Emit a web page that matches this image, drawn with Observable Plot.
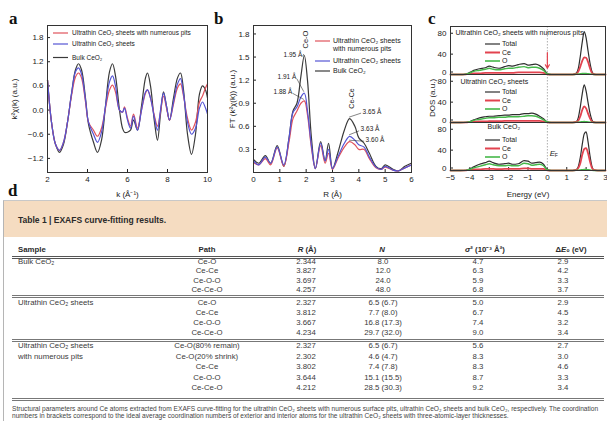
<!DOCTYPE html>
<html>
<head>
<meta charset="utf-8">
<script src="https://cdn.jsdelivr.net/npm/d3@7"></script>
<script src="https://cdn.jsdelivr.net/npm/@observablehq/plot@0.6"></script>
<style>
  html,body{margin:0;padding:0;background:#fff;}
  #root{position:relative;width:607px;height:421px;overflow:hidden;font-family:"Liberation Sans",Arial,sans-serif;color:#222;}
  .lbl{position:absolute;font-family:"Liberation Serif","DejaVu Serif",serif;font-weight:bold;font-size:17px;line-height:1;color:#111;}
  .t{position:absolute;white-space:nowrap;line-height:1;}
  .rule{position:absolute;height:0;border-top:1px solid #555;}
</style>
</head>
<body>
<div id="root"></div>
<script>
// ---------------- Panel a: EXAFS k^2 chi(k) ----------------
const kGrid = [2.0,2.2,2.4,2.6,2.8,3.0,3.2,3.4,3.55,3.7,3.9,4.05,4.3,4.5,4.7,4.9,5.1,5.25,5.4,5.6,5.75,5.85,6.0,6.15,6.3,6.5,6.7,6.9,7.0,7.15,7.35,7.5,7.65,7.8,7.95,8.1,8.3,8.5,8.65,8.8,9.0,9.2,9.4,9.6,9.75,9.9,10.0];
const chiPits = [0.75,-0.3,-0.85,-1.0,-0.8,-0.3,0.35,0.82,0.92,0.8,0.2,-0.3,-0.5,-0.65,-0.45,0.05,0.5,0.62,0.45,0.0,-0.05,0.08,-0.2,-0.4,-0.1,-0.45,0.0,0.42,0.5,0.3,-0.15,-0.4,-0.05,0.35,0.05,-0.25,0.15,0.55,0.65,0.35,-0.2,-0.5,-0.3,0.2,0.35,0.55,0.65];
const chiSheets = [0.75,-0.3,-0.85,-1.0,-0.8,-0.3,0.4,0.95,1.05,0.9,0.25,-0.3,-0.6,-0.8,-0.55,0.1,0.7,0.85,0.6,0.0,-0.05,0.05,-0.25,-0.45,-0.15,-0.5,0.0,0.45,0.5,0.3,-0.2,-0.5,0.0,0.42,0.1,-0.25,0.2,0.65,0.78,0.4,-0.3,-0.6,-0.45,0.05,0.2,0.05,-0.1];
const chiBulk = [0.75,-0.3,-0.85,-1.05,-0.85,-0.3,0.4,1.0,1.15,1.0,0.3,-0.35,-0.8,-1.05,-0.75,0.1,0.95,1.15,0.85,0.0,-0.45,-0.55,-0.55,-0.5,-0.25,-0.5,0.1,0.8,0.92,0.6,-0.3,-0.75,-0.1,0.45,0.1,-0.25,0.3,0.8,0.92,0.5,-0.6,-1.1,-0.6,0.4,0.6,0.5,0.3];
const kTicks = [2,4,6,8,10];
const chiTicks = [-1.2,-0.6,0,0.6,1.2,1.8];

// ---------------- Panel b: Fourier transform ----------------
const rGrid = [0,0.2,0.45,0.65,0.9,1.15,1.35,1.5,1.65,1.8,1.93,2.05,2.2,2.35,2.55,2.72,2.85,3.0,3.2,3.45,3.65,3.85,4.0,4.2,4.4,4.65,4.85,5.0,5.3,5.5,5.75,6.0];
const ftPits = [0.13,0.1,0.18,0.1,0.32,0.08,0.4,0.7,0.8,0.9,0.93,0.75,0.32,0.05,0.35,0.12,0.25,0.04,0.18,0.33,0.4,0.36,0.3,0.3,0.18,0.06,0.04,0.07,0.03,0.02,0.06,0.1];
const ftSheets = [0.15,0.1,0.2,0.12,0.33,0.1,0.45,0.78,0.85,0.98,1.03,0.8,0.35,0.05,0.38,0.15,0.3,0.05,0.2,0.38,0.47,0.42,0.36,0.33,0.2,0.07,0.04,0.08,0.03,0.02,0.06,0.1];
const ftBulk = [0.17,0.12,0.22,0.12,0.35,0.08,0.45,0.8,0.9,1.25,1.52,1.2,0.45,0.05,0.4,0.15,0.38,0.05,0.25,0.55,0.7,0.6,0.45,0.38,0.25,0.08,0.05,0.1,0.04,0.02,0.08,0.12];
const rTicks = [0,1,2,3,4,5,6];
const ftTicks = [0.3,0.6,0.9,1.2,1.5,1.8];
const ceOPeakLabels = ["1.88 Å","1.91 Å","1.95 Å"];   // pits, sheets, bulk
const ceCePeakLabels = ["3.60 Å","3.63 Å","3.65 Å"];  // pits, sheets, bulk

// ---------------- Panel c: DOS ----------------
const energy = [-5,-4.5,-4.2,-4,-3.8,-3.5,-3.2,-3,-2.8,-2.5,-2.2,-2,-1.8,-1.5,-1.2,-1,-0.8,-0.6,-0.4,-0.2,0,0.2,1.3,1.5,1.6,1.7,1.8,1.9,2,2.1,2.2,2.3,2.4,2.6,3];
const pitsTotal  = [0,0,1,4,8,11,13,16,14,12,15,17,16,19,21,18,19,20,17,11,2,0,0,3,12,35,62,82,70,45,22,6,1,0,0];
const pitsCe     = [0,0,0.5,1,2,2,3,3,3,3,3,3,3,4,4,4,4,4,4,3,0.5,0,0,1,6,15,26,33,32,24,12,3,0.5,0,0];
const pitsO      = [0,0,0.5,3,6,8,10,12,10,9,11,12,12,14,15,13,14,14,12,8,1,0,0,0.5,1,1.5,2,2,2,1.5,1,0.5,0,0,0];
const sheetsTotal= [0,0,0.5,2,5,9,11,12,12,13,14,14,15,15,17,17,18,16,12,7,1,0,0,2,10,30,55,72,60,38,18,5,1,0,0];
const sheetsCe   = [0,0,0.3,1,1.5,2,2,2.5,2.5,2.5,3,3,3,3,3,3,3,3,3,2,0.5,0,0,1,4,12,24,31,27,17,8,2,0.5,0,0];
const sheetsO    = [0,0,0.3,1.5,4,6,8,9,9,10,10,11,11,11,12,13,13,12,9,5,1,0,0,0.3,0.8,1.2,1.5,1.8,1.5,1.2,0.8,0.3,0,0,0];
const bulkTotal  = [0,0,0.5,3,7,12,15,18,15,12,13,14,12,13,19,18,14,15,16,12,2,0,0,2,8,25,50,70,74,55,28,8,1,0,0];
const bulkCe     = [0,0,0.3,1,2,2,3,3,3,2.5,3,3,3,3,4,4,3,3,3,3,0.5,0,0,1,5,14,30,41,43,33,17,5,1,0,0];
const bulkO      = [0,0,0.3,2,5,8,11,13,11,9,9,10,9,9,14,13,10,11,12,9,1,0,0,0.3,0.8,1.2,1.5,2,2,1.5,1,0.3,0,0,0];
const dosPanels = ["pits","sheets","bulk"];
const dosPanelTitles = ["Ultrathin CeO₂ sheets with numerous pits","Ultrathin CeO₂ sheets","Bulk CeO₂"];
const dosSeries = ["Total","Ce","O"];
const eTicks = [-5,-4,-3,-2,-1,0,1,2,3];
const dosTicksLow = [0];
const dosTicksHigh = [40,80];
const fermiLevel = [0];

// ---------------- Table ----------------
const tableTitle = "Table 1 | EXAFS curve-fitting results.";
const tableHeaders = ["Sample","Path","<i>R</i> (Å)","<i>N</i>","<i>σ</i>² (10⁻³ Å²)","Δ<i>E</i>₀ (eV)"];
const sampleNames = [["Bulk CeO₂"],["Ultrathin CeO₂ sheets"],["Ultrathin CeO₂ sheets","with numerous pits"]];
const paths = [["Ce-O","Ce-Ce","Ce-O-O","Ce-Ce-O"],["Ce-O","Ce-Ce","Ce-O-O","Ce-Ce-O"],["Ce-O(80% remain)","Ce-O(20% shrink)","Ce-Ce","Ce-O-O","Ce-Ce-O"]];
const rValues = [["2.344","3.827","3.697","4.257"],["2.327","3.812","3.667","4.234"],["2.327","2.302","3.802","3.644","4.212"]];
const nValues = [["8.0","12.0","24.0","48.0"],["6.5 (6.7)","7.7 (8.0)","16.8 (17.3)","29.7 (32.0)"],["6.5 (6.7)","4.6 (4.7)","7.4 (7.8)","15.1 (15.5)","28.5 (30.3)"]];
const sigmaValues = [["4.7","6.3","5.9","6.8"],["5.0","6.7","7.4","9.0"],["5.6","8.3","8.3","8.7","9.2"]];
const e0Values = [["2.9","4.2","3.3","3.7"],["2.9","4.5","3.2","3.4"],["2.7","3.0","4.6","3.3","3.4"]];
const footnote = [
  "Structural parameters around Ce atoms extracted from EXAFS curve-fitting for the ultrathin CeO₂ sheets with numerous surface pits, ultrathin CeO₂ sheets and bulk CeO₂, respectively. The coordination",
  "numbers in brackets correspond to the ideal average coordination numbers of exterior and interior atoms for the ultrathin CeO₂ sheets with three-atomic-layer thicknesses."
];

// ================= rendering =================
const root = document.getElementById("root");
const fontStack = "'Liberation Sans', Arial, Helvetica, sans-serif";
const baseStyle = {background: "transparent", fontFamily: fontStack, fontSize: "8px", color: "#222", overflow: "visible"};
const cPits = "#e0525c", cSheets = "#5454d4", cBulk = "#3a3a3a";
const cTotal = "#2e2e2e", cCe = "#e2434f", cO = "#46b84a";

function mount(node, left, top) {
  node.style.position = "absolute";
  node.style.left = left + "px";
  node.style.top = top + "px";
  root.appendChild(node);
}

function legendMark(items, x0, len, gap, fontSize) {
  return (index, scales, values, dims) => {
    const g = d3.create("svg:g").attr("font-size", fontSize).attr("fill", "#222")
      .attr("font-family", fontStack).attr("text-anchor", "start");
    for (const it of items) {
      const x = dims.marginLeft + x0, y = dims.marginTop + it.dy;
      g.append("line").attr("x1", x).attr("x2", x + len).attr("y1", y).attr("y2", y)
        .attr("stroke", it.color).attr("stroke-width", it.width || 1.2);
      it.lines.forEach((s, j) => g.append("text").attr("x", x + len + gap).attr("y", y + j * (it.lh || 0)).attr("dy", "0.35em").text(s));
    }
    return g.node();
  };
}

// ---- Panel a ----
const plotA = Plot.plot({
  width: 210, height: 200,
  marginLeft: 47, marginRight: 3, marginTop: 25, marginBottom: 28,
  style: baseStyle,
  x: {domain: [2, 10], ticks: kTicks, tickFormat: d3.format("d"), tickSize: -3, tickPadding: 7, label: "k (Å⁻¹)", labelAnchor: "center", labelOffset: 24, labelArrow: "none"},
  y: {domain: [-1.55, 2.1], ticks: chiTicks, tickFormat: d3.format(".1f"), tickSize: -3, tickPadding: 7, label: "k²χ(k) (a.u.)", labelAnchor: "center", labelOffset: 36, labelArrow: "none"},
  marks: [
    Plot.line(kGrid, {x: d => d, y: (d, i) => chiBulk[i], stroke: cBulk, strokeWidth: 1.2, curve: "catmull-rom"}),
    Plot.line(kGrid, {x: d => d, y: (d, i) => chiPits[i], stroke: cPits, strokeWidth: 1.2, curve: "catmull-rom"}),
    Plot.line(kGrid, {x: d => d, y: (d, i) => chiSheets[i], stroke: cSheets, strokeWidth: 1.2, curve: "catmull-rom"}),
    Plot.frame({stroke: "#333"}),
    legendMark([
      {color: cPits, dy: 8, lines: ["Ultrathin CeO₂ sheets with numerous pits"]},
      {color: cSheets, dy: 19, lines: ["Ultrathin CeO₂ sheets"]},
      {color: cBulk, dy: 32.5, lines: ["Bulk CeO₂"]}
    ], 6, 15, 4, 6.5)
  ]
});
mount(plotA, 0, 0);

// ---- Panel b ----
function peakIndex(arr, lo, hi) {
  let best = -1;
  rGrid.forEach((r, i) => { if (r >= lo && r <= hi && (best < 0 || arr[i] > arr[best])) best = i; });
  return best;
}
const ftSets = [ftPits, ftSheets, ftBulk];
const ceOAnn = [{dx: -12, dy: -9}, {dx: -8, dy: -16}, {dx: -2, dy: -1}];
const ceCeAnn = [{dx: 16, dy: -2}, {dx: 11, dy: -7}, {dx: 13, dy: -7}];
const annMarks = [];
const leaderSpecs = [];
ftSets.forEach((arr, s) => {
  const i1 = peakIndex(arr, 1.5, 2.4), i2 = peakIndex(arr, 3.2, 4.0);
  annMarks.push(Plot.text([i1], {x: i => rGrid[i], y: i => arr[i], text: () => ceOPeakLabels[s], textAnchor: "end", dx: ceOAnn[s].dx, dy: ceOAnn[s].dy, fontSize: 6.5, fill: "#222"}));
  annMarks.push(Plot.text([i2], {x: i => rGrid[i], y: i => arr[i], text: () => ceCePeakLabels[s], textAnchor: "start", dx: ceCeAnn[s].dx, dy: ceCeAnn[s].dy, fontSize: 6.5, fill: "#222"}));
  leaderSpecs.push({r: rGrid[i1], v: arr[i1], dx: ceOAnn[s].dx + 1, dy: ceOAnn[s].dy + 2});
  leaderSpecs.push({r: rGrid[i2], v: arr[i2], dx: ceCeAnn[s].dx - 1, dy: ceCeAnn[s].dy + 2});
});
const bulkCeO = peakIndex(ftBulk, 1.5, 2.4), bulkCeCe = peakIndex(ftBulk, 3.2, 4.0);
const plotB = Plot.plot({
  width: 215, height: 200,
  marginLeft: 53, marginRight: 4, marginTop: 25, marginBottom: 28,
  style: baseStyle,
  x: {domain: [0, 6], ticks: rTicks, tickFormat: d3.format("d"), tickSize: -3, tickPadding: 7, label: "R (Å)", labelAnchor: "center", labelOffset: 24, labelArrow: "none"},
  y: {domain: [0, 1.91], ticks: ftTicks, tickFormat: d3.format(".1f"), tickSize: -3, tickPadding: 7, label: "FT (k²χ(k)) (a.u.)", labelAnchor: "center", labelOffset: 24, labelArrow: "none"},
  marks: [
    Plot.line(rGrid, {x: d => d, y: (d, i) => ftBulk[i], stroke: cBulk, strokeWidth: 1.2, curve: "catmull-rom", clip: true}),
    Plot.line(rGrid, {x: d => d, y: (d, i) => ftPits[i], stroke: cPits, strokeWidth: 1.2, curve: "catmull-rom", clip: true}),
    Plot.line(rGrid, {x: d => d, y: (d, i) => ftSheets[i], stroke: cSheets, strokeWidth: 1.2, curve: "catmull-rom", clip: true}),
    Plot.frame({stroke: "#333"}),
    ...annMarks,
    (index, scales) => {
      const g = d3.create("svg:g").attr("stroke", "#333").attr("stroke-width", 0.6);
      for (const L of leaderSpecs) {
        const px = scales.x(L.r), py = scales.y(L.v);
        g.append("line").attr("x1", px + L.dx).attr("y1", py + L.dy).attr("x2", px).attr("y2", py - 1);
      }
      return g.node();
    },
    Plot.text([bulkCeO], {x: i => rGrid[i], y: i => ftBulk[i], text: () => "Ce-O", rotate: -90, textAnchor: "start", dx: 1, dy: -7, fontSize: 7.5, fill: "#222"}),
    Plot.text([bulkCeCe], {x: i => rGrid[i], y: i => ftBulk[i], text: () => "Ce-Ce", rotate: -90, textAnchor: "start", dx: 2, dy: -10, fontSize: 7, fill: "#222"}),
    legendMark([
      {color: cPits, dy: 16, lines: ["Ultrathin CeO₂ sheets", "with numerous pits"], lh: 7.5},
      {color: cSheets, dy: 36, lines: ["Ultrathin CeO₂ sheets"]},
      {color: cBulk, dy: 46, lines: ["Bulk CeO₂"]}
    ], 62, 15, 3, 7)
  ]
});
mount(plotB, 200, 0);

// ---- Panel c ----
const dosArrays = [[pitsTotal, pitsCe, pitsO], [sheetsTotal, sheetsCe, sheetsO], [bulkTotal, bulkCe, bulkO]];
const dosData = [];
dosPanels.forEach((p, pi) => dosSeries.forEach((s, si) => energy.forEach((E, i) =>
  dosData.push({panel: p, series: s, E, v: dosArrays[pi][si][i]}))));
const titleOffsets = [{dx: 5, dy: 3.5}, {dx: 10, dy: 5}, {dx: 37, dy: 2}];
const arrowData = [{panel: "pits", E: fermiLevel[0]}];
const axisOpts = {tickSize: -3, tickPadding: 7, label: null, fontSize: 8};
const plotC = Plot.plot({
  width: 207, height: 200,
  marginLeft: 50, marginRight: 2, marginTop: 25, marginBottom: 30,
  style: baseStyle,
  fy: {domain: dosPanels, axis: null, padding: 0},
  x: {domain: [-5, 3], ticks: eTicks, tickSize: -3, tickPadding: 7, label: "Energy (eV)", labelAnchor: "center", labelOffset: 26, labelArrow: "none"},
  y: {domain: [0, 92]},
  marks: [
    Plot.axisY(dosTicksLow, {...axisOpts, dy: -2.5}),
    Plot.axisY(dosTicksHigh, {...axisOpts, dy: 0.5}),
    Plot.ruleX(fermiLevel, {stroke: "#999", strokeDasharray: "1.5,1.5", strokeWidth: 0.8}),
    Plot.line(dosData.filter(d => d.series === "Total"), {x: "E", y: "v", fy: "panel", stroke: cTotal, strokeWidth: 1.2, curve: "monotone-x"}),
    Plot.line(dosData.filter(d => d.series === "Ce"), {x: "E", y: "v", fy: "panel", stroke: cCe, strokeWidth: 1.8, curve: "monotone-x"}),
    Plot.line(dosData.filter(d => d.series === "O"), {x: "E", y: "v", fy: "panel", stroke: cO, strokeWidth: 1.4, curve: "monotone-x"}),
    Plot.frame({stroke: "#333"}),
    ...dosPanels.map((p, i) => Plot.text([p], {fy: d => d, text: () => dosPanelTitles[i], frameAnchor: "top-left", dx: titleOffsets[i].dx, dy: titleOffsets[i].dy, fontSize: 7, fill: "#222"})),
    legendMark([
      {color: cTotal, dy: 18, lines: ["Total"]},
      {color: cCe, dy: 26.5, lines: ["Ce"], width: 2},
      {color: cO, dy: 35, lines: ["O"], width: 1.6}
    ], 35, 15, 2, 7),
    Plot.arrow(arrowData, {x: "E", y1: () => 42, y2: () => 12, fy: "panel", stroke: "#e2434f", strokeWidth: 1.2, headLength: 5}),
    Plot.text(["bulk"], {fy: d => d, x: () => fermiLevel[0], frameAnchor: "middle", text: () => "E", fontStyle: "italic", fontSize: 8, dx: 5, dy: 7, fill: "#222"}),
    Plot.text(["bulk"], {fy: d => d, x: () => fermiLevel[0], frameAnchor: "middle", text: () => "F", fontSize: 5, dx: 9, dy: 9, fill: "#222"})
  ]
});
mount(plotC, 400, 0);

// ---- HTML helpers ----
function txt(html, x, y, o = {}) {
  const d = document.createElement("div");
  d.className = "t";
  d.innerHTML = html;
  d.style.fontSize = (o.size || 7.5) + "px";
  d.style.fontWeight = o.weight || "normal";
  d.style.color = o.color || "#333";
  d.style.fontFamily = o.family || fontStack;
  d.style.left = x + "px";
  d.style.top = y + "px";
  let tr = o.align === "center" ? "translate(-50%,-50%)" : "translate(0,-50%)";
  if (o.rotate) tr += ` rotate(${o.rotate}deg)`;
  d.style.transform = tr;
  root.appendChild(d);
  return d;
}
function rule(x, y, w, color, dbl) {
  for (let k = 0; k < (dbl ? 2 : 1); k++) {
    const r = document.createElement("div");
    r.className = "rule";
    r.style.left = x + "px"; r.style.top = (y + 2 * k) + "px"; r.style.width = w + "px";
    r.style.borderTopColor = color;
    root.appendChild(r);
  }
}

// DOS axis label
txt("DOS (a.u.)", 433, 98, {size: 8, align: "center", rotate: -90, color: "#222"});

// panel letters
[["a", 9, 10], ["b", 214, 10], ["c", 428, 10], ["d", 8, 182]].forEach(([s, x, y]) => {
  const d = document.createElement("div");
  d.className = "lbl"; d.textContent = s;
  d.style.left = x + "px"; d.style.top = y + "px";
  root.appendChild(d);
});

// ---- Table ----
const box = document.createElement("div");
box.style.cssText = "position:absolute;left:3px;top:200px;width:610px;height:230px;border-left:1px solid #b5b5b5;border-top:1px solid #c8c8c8;";
root.appendChild(box);
const band = document.createElement("div");
band.style.cssText = "position:absolute;left:4px;top:201px;width:603px;height:36px;background:#f5dcc1;";
root.appendChild(band);
txt(tableTitle, 18, 220, {size: 8.5, weight: "bold", color: "#2a2a2a"});

const headerX = [18, 207, 307, 382, 485, 571];
const colX = [18, 207, 306, 383, 478, 563];
tableHeaders.forEach((h, i) => txt(h, headerX[i], 250, {size: 7.8, weight: "bold", align: i ? "center" : "left", color: "#2a2a2a"}));
rule(12, 255.5, 592, "#555", true);

const blockTop = [262, 302.5, 346];
const blockStep = [9.3, 10, 10.5];
const cols = [paths, rValues, nValues, sigmaValues, e0Values];
sampleNames.forEach((names, b) => {
  names.forEach((n, j) => txt(n, 18, blockTop[b] + j * blockStep[b], {size: 7.8, color: "#3a3a3a"}));
  cols.forEach((col, c) => col[b].forEach((v, j) =>
    txt(v, colX[c + 1], blockTop[b] + j * blockStep[b], {size: 7.8, align: "center", color: "#3a3a3a"})));
});
rule(12, 294.5, 592, "#777", true);
rule(12, 338.5, 592, "#777", true);
rule(12, 397.5, 592, "#777", true);
footnote.forEach((f, i) => txt(f, 12, 408.5 + i * 7.5, {size: 6.6, color: "#444"}));
</script>
</body>
</html>
